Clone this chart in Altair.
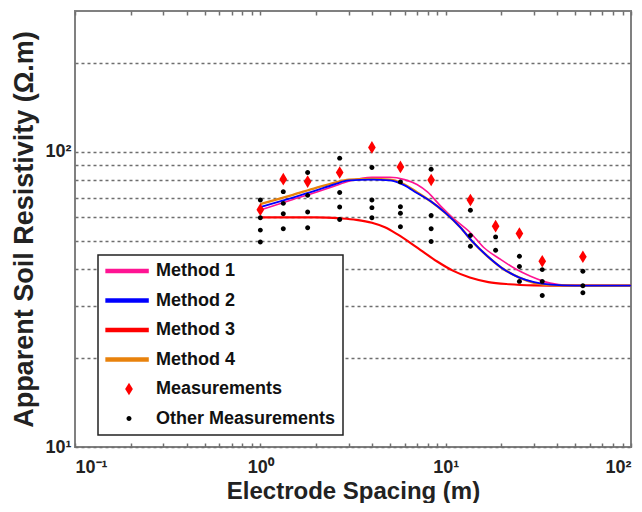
import altair as alt
import pandas as pd

# ---------------- data ----------------
SERIES = ["Method 1", "Method 2", "Method 3", "Method 4", "Measurements", "Other Measurements"]
COLORS = ["#ff1493", "#0000ff", "#ff0000", "#e8820c", "#ff0000", "#000000"]

M1_X = [1, 1.5, 2, 2.5, 3, 4, 5, 6, 7, 8, 9.4, 11, 13.6, 16, 19.8, 24, 28.7, 36.6, 45, 100]
M1_Y = [63.5, 69, 73, 76.5, 79.5, 82, 82, 80.5, 77.5, 73, 65.5, 59.5, 53.2, 47.5, 43.2, 40, 37.9, 35.9, 35.3, 35.2]

M2_X = [1, 1.5, 2, 2.5, 3, 4, 5, 6, 7, 8.3, 10, 12, 14, 17, 20, 25, 30, 37, 50, 100]
M2_Y = [65, 70, 74, 77.5, 80, 80.5, 80, 77, 72.5, 68, 62, 55.5, 49.5, 44, 40.5, 37.5, 36.2, 35.5, 35.2, 35.2]

M3_X = [1, 1.5, 2, 2.7, 3.3, 4, 4.7, 5.5, 6.5, 7.5, 9, 11, 13.5, 17, 22, 30, 45, 100]
M3_Y = [60, 60, 60, 59.5, 58.8, 57.5, 55.5, 52.5, 49, 46, 42.5, 39.5, 37.5, 36.2, 35.6, 35.3, 35.2, 35.2]

M4_X = [1, 1.5, 2, 2.5, 3, 4, 5, 6, 7, 8.3, 10, 12, 14, 17, 20, 25, 30, 37, 50, 100]
M4_Y = [66.5, 71.5, 75.5, 78.5, 80.5, 81, 80.5, 77.5, 73, 68, 62, 55.5, 49.5, 44, 40.5, 37.5, 36, 35.3, 35.2, 35.2]

MEAS_X = [1, 1.33, 1.8, 2.68, 4.0, 5.7, 8.35, 13.6, 18.6, 25, 33.2, 55]
MEAS_Y = [63.7, 80.8, 79.3, 85.1, 103.5, 88.9, 80.3, 68.7, 56.0, 52.9, 42.6, 44.1]

OTHER_X = [1, 1, 1, 1,
           1.33, 1.33, 1.33, 1.33,
           1.8, 1.8, 1.8, 1.8,
           2.68, 2.68, 2.68, 2.68,
           4.0, 4.0, 4.0, 4.0,
           5.7, 5.7, 5.7, 5.7,
           8.35, 8.35, 8.35, 8.35,
           13.6, 13.6, 13.6,
           18.6, 18.6,
           25, 25, 25,
           33.2, 33.2, 33.2,
           55, 55, 55]
OTHER_Y = [68.7, 59.8, 54.3, 49.5,
           73.3, 66.9, 61.7, 54.9,
           85.1, 71.2, 62.5, 55.3,
           95.2, 72.8, 65.0, 59.0,
           88.5, 68.7, 64.7, 59.8,
           79.1, 65.2, 61.9, 55.7,
           87.3, 60.9, 54.9, 49.7,
           63.4, 52.1, 47.9,
           51.5, 46.4,
           44.3, 40.9, 36.4,
           39.9, 36.4, 32.6,
           39.4, 35.2, 33.3]

X_TICKS = [round(m * 10.0 ** e, 6) for e in (-1, 0, 1) for m in range(1, 10)] + [100.0]
Y_GRID = [10, 20, 30, 40, 50, 60, 70, 80, 90, 100, 200]

# ---------------- tables ----------------
line_rows = []
for name, xs, ys in [("Method 1", M1_X, M1_Y), ("Method 3", M3_X, M3_Y),
                     ("Method 4", M4_X, M4_Y), ("Method 2", M2_X, M2_Y)]:
    for xv, yv in zip(xs, ys):
        line_rows.append({"series": name, "x": xv, "y": yv})
lines_df = pd.DataFrame(line_rows)

pt_rows = [{"series": "Measurements", "x": xv, "y": yv} for xv, yv in zip(MEAS_X, MEAS_Y)]
pt_rows += [{"series": "Other Measurements", "x": xv, "y": yv} for xv, yv in zip(OTHER_X, OTHER_Y)]
points_df = pd.DataFrame(pt_rows)

# ---------------- styling ----------------
FONT = "Liberation Sans"
LINE_PATH = "M-4.3,-0.42H3.6V0.42H-4.3Z"
DIAMOND_PATH = "M0,-1.15L0.7,0L0,1.15L-0.7,0Z"
DOT_PATH = "M-0.45,0A0.45,0.45 0 1,0 0.45,0A0.45,0.45 0 1,0 -0.45,0Z"
SHAPES = [LINE_PATH, LINE_PATH, LINE_PATH, LINE_PATH, DIAMOND_PATH, DOT_PATH]

x_scale = alt.Scale(type="log", domain=[0.1, 100], nice=False)
y_scale = alt.Scale(type="log", domain=[10, 300], nice=False)
color_scale = alt.Scale(domain=SERIES, range=COLORS)
shape_scale = alt.Scale(domain=SERIES, range=SHAPES)

x_label_expr = ("datum.value == 0.1 ? '10\u207b\u00b9' : datum.value == 1 ? '10\u2070' : "
                "datum.value == 10 ? '10\u00b9' : datum.value == 100 ? '10\u00b2' : ''")
y_label_expr = "datum.value == 10 ? '10\u00b9' : datum.value == 100 ? '10\u00b2' : ''"

y_axis = alt.Axis(values=Y_GRID, labelExpr=y_label_expr, ticks=False, domain=False,
                  grid=True, gridDash=[3, 3], gridColor="#6e6e6e", gridWidth=1.6,
                  labelPadding=4, labelOverlap=False,
                  title="Apparent Soil Resistivity (\u03a9.m)", titleX=-51,
                  titleFontSize=27, titleBaseline="middle")

x_bottom = alt.Axis(values=X_TICKS, labelExpr=x_label_expr, tickSize=4, offset=-4,
                    domain=False, grid=False, tickColor="#707070", tickWidth=1.5,
                    labelPadding=11, labelOverlap=False,
                    title="Electrode Spacing (m)", titleY=55, titleBaseline="alphabetic")

x_top = alt.Axis(orient="top", values=X_TICKS, labels=False, tickSize=4, offset=-4,
                 domain=False, grid=False, tickColor="#707070", tickWidth=1.5, title=None)

legend = alt.Legend(orient="none", legendX=23, legendY=244, title=None,
                    labelFontSize=18, labelFont=FONT, labelFontWeight="bold",
                    labelColor="#111111", labelLimit=300,
                    symbolSize=121, symbolStrokeWidth=0, rowPadding=11.5, padding=7,
                    symbolOffset=15, labelOffset=18,
                    fillColor="white", strokeColor="#222222")

lines = alt.Chart(lines_df).mark_line(interpolate="monotone").encode(
    x=alt.X("x:Q", scale=x_scale, axis=x_bottom),
    y=alt.Y("y:Q", scale=y_scale, axis=y_axis),
    color=alt.Color("series:N", scale=color_scale, legend=None),
    strokeWidth=alt.StrokeWidth("series:N", scale=alt.Scale(
        domain=["Method 1", "Method 2", "Method 3", "Method 4"], range=[1.6, 2.4, 2.2, 2.0]),
        legend=None),
)

points = alt.Chart(points_df).mark_point(filled=True, size=121, opacity=1).encode(
    x=alt.X("x:Q", scale=x_scale, axis=x_top),
    y=alt.Y("y:Q", scale=y_scale, axis=y_axis),
    color=alt.Color("series:N", scale=color_scale, legend=legend),
    shape=alt.Shape("series:N", scale=shape_scale, legend=legend),
)

chart = alt.layer(lines, points).resolve_axis(x="independent").resolve_legend(
    color="independent", shape="independent", strokeWidth="independent"
).properties(
    width=556, height=436,
    padding={"left": 67, "top": 3, "right": 3, "bottom": 56},
    autosize=alt.AutoSizeParams(type="none"),
).configure_view(
    stroke="#808080", strokeWidth=2
).configure_axis(
    labelFont=FONT, labelFontSize=18, labelFontWeight="bold", labelColor="#222222",
    titleFont=FONT, titleFontSize=24, titleFontWeight="bold", titleColor="#222222",
).configure_legend(
    strokeWidth=1.5
)

chart.save("out.html", embed_options={"renderer": "svg", "actions": False})
